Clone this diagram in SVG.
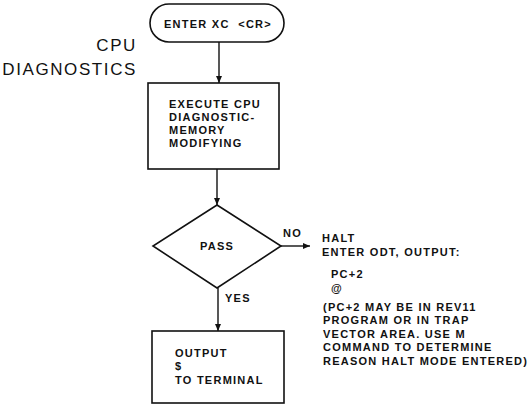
<svg xmlns="http://www.w3.org/2000/svg" width="530" height="405" viewBox="0 0 530 405">
<defs>
<marker id="ah" markerWidth="8" markerHeight="8" refX="7" refY="4" orient="auto" markerUnits="userSpaceOnUse">
<path d="M0,1 L7,4 L0,7 Z" fill="#111"/>
</marker>
<style>
.s{fill:#fff;stroke:#111;stroke-width:1.6}
.t{font-family:"Liberation Sans",Arial,sans-serif;font-weight:bold;font-size:11px;letter-spacing:1.25px;fill:#111}
.h{font-family:"Liberation Sans",Arial,sans-serif;font-size:17px;letter-spacing:1.6px;fill:#111}
.c{fill:none;stroke:#111;stroke-width:1.4}
</style>
</defs>
<rect width="530" height="405" fill="#fff"/>
<g id="title">
<text class="h" x="137" y="51" text-anchor="end">CPU</text>
<text class="h" x="137" y="75" text-anchor="end">DIAGNOSTICS</text>
</g>
<g id="start">
<rect class="s" x="150" y="4" width="134" height="38" rx="19"/>
<text class="t" x="164" y="28" xml:space="preserve">ENTER XC  &lt;CR&gt;</text>
</g>
<g id="execute">
<rect class="s" x="148" y="83" width="131" height="86"/>
<text class="t" x="169" y="108">EXECUTE CPU</text>
<text class="t" x="169" y="121">DIAGNOSTIC-</text>
<text class="t" x="169" y="134">MEMORY</text>
<text class="t" x="169" y="147">MODIFYING</text>
</g>
<g id="pass">
<polygon class="s" points="217,205 281,246 217,288 153,246"/>
<text class="t" x="217" y="250" text-anchor="middle">PASS</text>
</g>
<g id="output">
<rect class="s" x="152" y="331" width="132" height="72"/>
<text class="t" x="175" y="357">OUTPUT</text>
<text class="t" x="175" y="370">$</text>
<text class="t" x="175" y="384">TO TERMINAL</text>
</g>
<g id="halt">
<text class="t" x="322" y="242">HALT</text>
<text class="t" x="322" y="256">ENTER ODT, OUTPUT:</text>
<text class="t" x="331" y="278">PC+2</text>
<text class="t" x="331" y="292">@</text>
<text class="t" x="323" y="311">(PC+2 MAY BE IN REV11</text>
<text class="t" x="323" y="324">PROGRAM OR IN TRAP</text>
<text class="t" x="323" y="338">VECTOR AREA. USE M</text>
<text class="t" x="323" y="351">COMMAND TO DETERMINE</text>
<text class="t" x="323" y="365">REASON HALT MODE ENTERED)</text>
</g>
<g id="connectors">
<line class="c" x1="219" y1="42" x2="219" y2="83" marker-end="url(#ah)"/>
<line class="c" x1="217" y1="169" x2="217" y2="205" marker-end="url(#ah)"/>
<line class="c" x1="218" y1="288" x2="218" y2="331" marker-end="url(#ah)"/>
<line class="c" x1="281" y1="246" x2="310" y2="246" marker-end="url(#ah)"/>
<text class="t" x="283" y="237">NO</text>
<text class="t" x="225" y="302">YES</text>
</g>
</svg>
